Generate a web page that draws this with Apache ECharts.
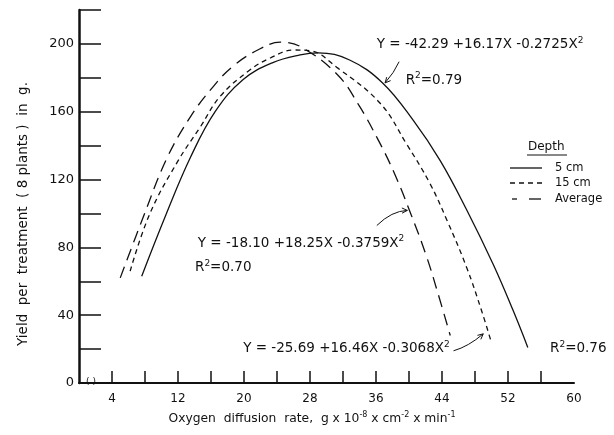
<!DOCTYPE html>
<html><head><meta charset="utf-8">
<script src="https://cdn.jsdelivr.net/npm/echarts@6/dist/echarts.min.js"></script>
<style>html,body{margin:0;padding:0;background:#fff}#c{width:614px;height:435px}</style>
</head><body><div id="c"></div>
<script>
// ---- data ----
const seriesNames = ['5 cm', '15 cm', 'Average'];
const xTickLabels = [4, 12, 20, 28, 36, 44, 52, 60];
const xTickMarks = [4, 8, 12, 16, 20, 24, 28, 32, 36, 40, 44, 48, 52, 56];
const yTickLabels = [0, 40, 80, 120, 160, 200];
const yTickMarks = [20, 40, 60, 80, 100, 120, 140, 160, 180, 200, 220];

const x5cm = [7.6, 10.6, 13.5, 16.5, 19.9, 23.5, 26.8, 29.0, 32.8, 36.8, 40.5, 43.8, 47.0, 50.2, 52.6, 54.4];
const y5cm = [63, 100, 133, 160, 179, 189, 193.5, 194.7, 190.5, 177, 155, 131, 102, 70, 43, 21];

const x15cm = [6.2, 8.6, 12.0, 14.7, 17.1, 20.7, 23.2, 26.0, 28.0, 31.3, 36.5, 39.7, 42.5, 44.6, 47.0, 48.8, 50.0];
const y15cm = [66, 100, 131, 151, 169, 184.6, 191.7, 196.4, 196, 186, 165, 141, 118, 96, 68, 42.6, 23.7];

const xAvg = [5.0, 7.8, 10.6, 13.5, 16.3, 18.7, 21.9, 24.4, 26.8, 31.3, 33.9, 36.2, 38.2, 40.2, 42.1, 43.5, 45.0];
const yAvg = [62, 98, 132, 157, 175, 187, 197, 201, 198.5, 182, 164, 144, 124, 100, 75, 53, 28];

const eqTexts = [
  'Y = -42.29 +16.17X -0.2725X{s|2}',
  'R{s|2}=0.79',
  'Y = -18.10 +18.25X -0.3759X{s|2}',
  'R{s|2}=0.70',
  'Y = -25.69 +16.46X -0.3068X{s|2}',
  'R{s|2}=0.76'
];
// annotation anchor positions (data units)
const eqPos = [[36.1, 199.4], [39.6, 178.7], [14.4, 82.2], [14.06, 68], [19.9, 20.1], [57.1, 20.1]];
// arrows: [tail, control, head] in data units
const arrows = [
  [[38.8, 189.5], [38.2, 183], [37.1, 177]],
  [[36.1, 92.9], [37.9, 101.5], [39.8, 101.8]],
  [[45.4, 19.0], [47.2, 21.5], [49.0, 29.0]]
];

const FONT = 'DejaVu Sans';
const INK = '#111';
function pairs(xs, ys) { return xs.map((x, i) => [x, ys[i]]); }

const chart = echarts.init(document.getElementById('c'), null, { renderer: 'canvas' });
const dashes = [null, [5, 4], [12, 7]];
const lineStyles = [
  { color: INK, width: 1.3, type: 'solid' },
  { color: INK, width: 1.3, type: dashes[1] },
  { color: INK, width: 1.3, type: dashes[2] }
];
const dataSets = [pairs(x5cm, y5cm), pairs(x15cm, y15cm), pairs(xAvg, yAvg)];

chart.setOption({
  animation: false,
  backgroundColor: '#fff',
  grid: { left: 79, right: 40, top: 10, bottom: 52 },
  xAxis: {
    type: 'value', min: 0, max: 60, interval: 4,
    axisLine: { onZero: false, lineStyle: { color: INK, width: 2 } },
    axisTick: { inside: true, length: 12, customValues: xTickMarks, lineStyle: { color: INK, width: 1.5 } },
    axisLabel: { customValues: xTickLabels, color: INK, fontSize: 12, margin: 10, fontFamily: FONT },
    splitLine: { show: false }
  },
  yAxis: {
    type: 'value', min: 0, max: 220, interval: 20,
    axisLine: { show: true, lineStyle: { color: INK, width: 2.5 } },
    axisTick: { show: true, inside: true, length: 22, customValues: yTickMarks, lineStyle: { color: INK, width: 1.5 } },
    axisLabel: { customValues: yTickLabels, color: INK, fontSize: 13, margin: 5, fontFamily: FONT },
    splitLine: { show: false }
  },
  legend: { show: false, data: seriesNames },
  series: seriesNames.map((n, i) => ({
    name: n, type: 'line', smooth: 0.4, symbol: 'none', showSymbol: false,
    data: dataSets[i], lineStyle: lineStyles[i], itemStyle: { color: INK }
  }))
});

function px(p) { return chart.convertToPixel({ gridIndex: 0 }, p); }
const g = [];
eqTexts.forEach((t, i) => {
  const p = px(eqPos[i]);
  g.push({ type: 'text', x: p[0], y: p[1], style: {
    text: t, fill: INK, font: '13.5px ' + FONT, textVerticalAlign: 'middle', textAlign: 'left',
    rich: { s: { fontSize: 9, fontFamily: FONT, fill: INK, padding: [0, 0, 9, 0] } }
  } });
});
arrows.forEach(a => {
  const t = px(a[0]), c = px(a[1]), h = px(a[2]);
  g.push({ type: 'bezierCurve', shape: { x1: t[0], y1: t[1], cpx1: c[0], cpy1: c[1], x2: h[0], y2: h[1] },
    style: { stroke: INK, lineWidth: 1, fill: null } });
  const ang = Math.atan2(h[1] - c[1], h[0] - c[0]);
  const L = 6;
  g.push({ type: 'polyline', shape: { points: [
    [h[0] - L * Math.cos(ang - 0.45), h[1] - L * Math.sin(ang - 0.45)], h,
    [h[0] - L * Math.cos(ang + 0.45), h[1] - L * Math.sin(ang + 0.45)] ] },
    style: { stroke: INK, lineWidth: 1, fill: null } });
});
// legend (drawn by hand, styled like the reference)
g.push({ type: 'text', x: 528, y: 147, style: { text: 'Depth', fill: INK, font: '12px ' + FONT, textVerticalAlign: 'middle' } });
g.push({ type: 'line', shape: { x1: 527, y1: 155, x2: 567, y2: 155 }, style: { stroke: INK, lineWidth: 1 } });
const legY = [168, 183, 199];
seriesNames.forEach((n, i) => {
  if (i === 2) {
    g.push({ type: 'line', shape: { x1: 512, y1: legY[i], x2: 517, y2: legY[i] }, style: { stroke: INK, lineWidth: 1.3 } });
    g.push({ type: 'line', shape: { x1: 529, y1: legY[i], x2: 541, y2: legY[i] }, style: { stroke: INK, lineWidth: 1.3 } });
  } else {
    g.push({ type: 'line', shape: { x1: 510, y1: legY[i], x2: 542, y2: legY[i] },
      style: { stroke: INK, lineWidth: 1.3, lineDash: dashes[i] } });
  }
  g.push({ type: 'text', x: 555, y: legY[i], style: { text: n, fill: INK, font: '11.5px ' + FONT, textVerticalAlign: 'middle' } });
});
// axis titles
g.push({ type: 'text', x: 23, y: 214, rotation: Math.PI / 2, style: {
  text: 'Yield  per  treatment  ( 8 plants )  in  g.', fill: INK, font: '13.5px ' + FONT, textAlign: 'center', textVerticalAlign: 'middle' } });
g.push({ type: 'text', x: 312, y: 419, style: {
  text: 'Oxygen  diffusion  rate,  g x 10{s|-8} x cm{s|-2} x min{s|-1}', fill: INK, font: '12.3px ' + FONT,
  textAlign: 'center', textVerticalAlign: 'middle',
  rich: { s: { fontSize: 8, fontFamily: FONT, fill: INK, padding: [0, 0, 9, 0] } } } });
// axis break mark
g.push({ type: 'text', x: 91, y: 382, style: { text: '( )', fill: INK, font: '9px ' + FONT, textAlign: 'center', textVerticalAlign: 'middle' } });
chart.setOption({ graphic: g });
</script>
</body></html>
